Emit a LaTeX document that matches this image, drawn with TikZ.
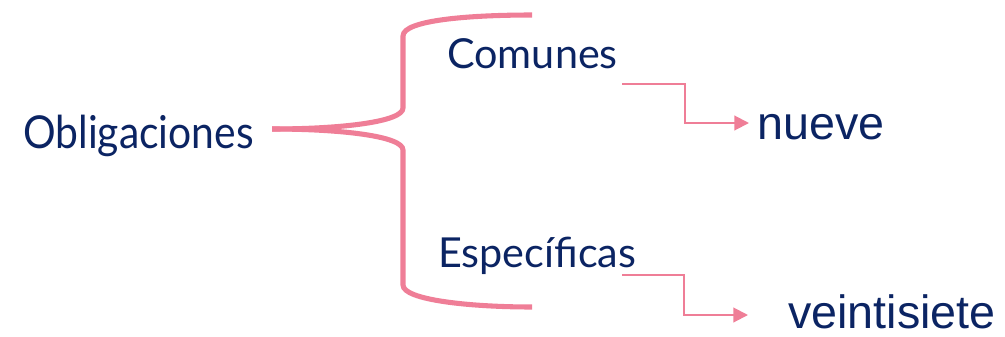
\documentclass[tikz,border=0pt]{standalone}
\usepackage{fontspec}
\setmainfont{Lato}
\newfontfamily\arialfont{Liberation Sans}
\usetikzlibrary{arrows.meta}
\definecolor{rosa}{HTML}{EF7E97}
\definecolor{marino}{HTML}{0B2463}
\tikzset{term/.style={inner sep=0, anchor=base west, text=marino, xscale=0.9, font=\fontsize{34}{40}\selectfont},
         rama/.style={inner sep=0, anchor=base west, text=marino, font=\fontsize{31}{37}\selectfont},
         cifra/.style={inner sep=0, anchor=base west, text=marino, font=\arialfont\fontsize{35}{42}\selectfont},
         llave/.style={rosa, line width=3.8pt},
         flecha/.style={rosa, line width=1.5pt, -{Triangle[length=11pt, width=11pt]}}}
\begin{document}
\begin{tikzpicture}[x=0.75pt, y=-0.75pt]
\useasboundingbox (0,0) rectangle (1005,336);
\node[term] (oblig) at (23,148) {Obligaciones};
\node[rama] (comun) at (447,68) {Comunes};
\node[rama] (espec) at (438,267) {Específicas};
\node[cifra] (nueve) at (757,139) {nueve};
\node[cifra] (veinte) at (788,328) {veintisiete};
% llave
\coordinate (pico) at (272,129);
\coordinate (arriba) at (532,15);
\coordinate (abajo) at (532,307);
\draw[llave] (pico) .. controls (340,129) and (403,122) .. (403,108) -- (403,36)
  .. controls (403,20) and (470,15) .. (arriba);
\draw[llave] (pico) .. controls (340,129) and (403,136) .. (403,150) -- (403,285)
  .. controls (403,300) and (470,307) .. (abajo);
% flechas
\coordinate (c1) at (622,84);
\coordinate (c2) at (622,275);
\coordinate (p1) at (749,123);
\coordinate (p2) at (748,315);
\draw[flecha] (c1) -- (685,84) |- (p1);
\draw[flecha] (c2) -- (684,275) |- (p2);
\end{tikzpicture}
\end{document}
